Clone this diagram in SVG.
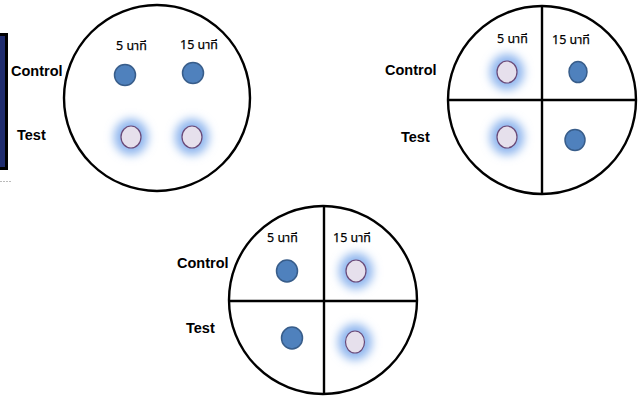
<svg xmlns="http://www.w3.org/2000/svg" width="641" height="404" viewBox="0 0 641 404">
<defs>
<filter id="blur" x="-100%" y="-100%" width="300%" height="300%"><feGaussianBlur stdDeviation="5"/></filter>
<style>
.dish{fill:#fff;stroke:#000;stroke-width:2.4}
.div{stroke:#000;stroke-width:2.4}
.lbl{font-family:"Liberation Sans",Arial,sans-serif;font-weight:bold;font-size:14.5px;fill:#000}
.th{font-family:"Noto Sans Thai","Tahoma","DejaVu Sans","Noto Sans",sans-serif;font-size:12.5px;fill:#000;stroke:#000;stroke-width:0.25}
.dark{fill:#4f81bd;stroke:#385d8a;stroke-width:1.5}
.light{fill:#e6e0ec;stroke:#6a4a78;stroke-width:1.2}
.glow{fill:#8fb6ee;filter:url(#blur)}
</style>
</defs>
<g id="edge-panel">
<rect x="0" y="33" width="8" height="137" fill="#000"/>
<rect x="0" y="36" width="5" height="131" fill="#1f2c6e"/>
<line x1="0" y1="181.5" x2="12" y2="181.5" stroke="#bbb" stroke-width="1" stroke-dasharray="2,1"/>
</g>
<g id="dish1">
<circle class="dish" cx="157" cy="98" r="93"/>
<text class="th" x="116" y="50">5 นาที</text>
<text class="th" x="180" y="49">15 นาที</text>
<text class="lbl" x="11" y="76">Control</text>
<text class="lbl" x="17" y="140">Test</text>
<ellipse class="dark" cx="125" cy="75" rx="10.5" ry="10.5"/>
<ellipse class="dark" cx="193" cy="73" rx="10.5" ry="10.5"/>
<ellipse class="glow" cx="131" cy="137" rx="17" ry="18"/>
<ellipse class="light" cx="131" cy="137" rx="10" ry="11"/>
<ellipse class="glow" cx="192" cy="137" rx="17" ry="18"/>
<ellipse class="light" cx="192" cy="137" rx="10" ry="11"/>
</g>
<g id="dish2">
<circle class="dish" cx="542" cy="100" r="94"/>
<line class="div" x1="542" y1="6" x2="542" y2="194"/>
<line class="div" x1="448" y1="100" x2="636" y2="100"/>
<text class="th" x="497" y="43">5 นาที</text>
<text class="th" x="552" y="44">15 นาที</text>
<text class="lbl" x="385" y="75">Control</text>
<text class="lbl" x="401" y="142">Test</text>
<ellipse class="glow" cx="507" cy="72" rx="17" ry="18"/>
<ellipse class="light" cx="507" cy="72" rx="10" ry="11"/>
<ellipse class="dark" cx="578" cy="72" rx="9" ry="10.5"/>
<ellipse class="glow" cx="507" cy="137" rx="17" ry="18"/>
<ellipse class="light" cx="507" cy="137" rx="10" ry="11"/>
<ellipse class="dark" cx="575" cy="140" rx="10" ry="10.5"/>
</g>
<g id="dish3">
<circle class="dish" cx="323" cy="300" r="94"/>
<line class="div" x1="324" y1="206" x2="324" y2="394"/>
<line class="div" x1="229" y1="301" x2="417" y2="301"/>
<text class="th" x="267" y="242">5 นาที</text>
<text class="th" x="333" y="242">15 นาที</text>
<text class="lbl" x="177" y="268">Control</text>
<text class="lbl" x="186" y="333">Test</text>
<ellipse class="dark" cx="287" cy="271" rx="10.5" ry="11"/>
<ellipse class="glow" cx="356" cy="271" rx="17" ry="18"/>
<ellipse class="light" cx="356" cy="271" rx="10" ry="11"/>
<ellipse class="dark" cx="292" cy="338" rx="10.5" ry="11"/>
<ellipse class="glow" cx="355" cy="342" rx="17" ry="18"/>
<ellipse class="light" cx="355" cy="342" rx="9.5" ry="11"/>
</g>
</svg>
